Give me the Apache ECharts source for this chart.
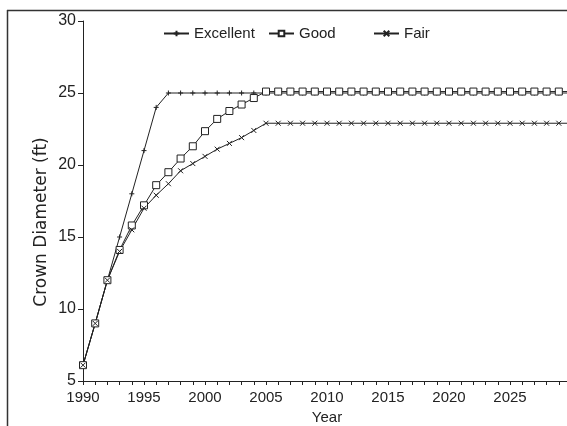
<!DOCTYPE html>
<html>
<head>
<meta charset="utf-8">
<script src="https://cdn.jsdelivr.net/npm/echarts@6/dist/echarts.min.js"></script>
<style>
html,body{margin:0;padding:0;background:#fff;}
#c{width:567px;height:426px;}
</style>
</head>
<body>
<div id="c"></div>
<script>
var years = [1990,1991,1992,1993,1994,1995,1996,1997,1998,1999,2000,2001,2002,2003,2004,2005,2006,2007,2008,2009,2010,2011,2012,2013,2014,2015,2016,2017,2018,2019,2020,2021,2022,2023,2024,2025,2026,2027,2028,2029,2030];
var excellent = [6.1,9,12,15,18,21,24,25,25,25,25,25,25,25,25,25,25,25,25,25,25,25,25,25,25,25,25,25,25,25,25,25,25,25,25,25,25,25,25,25,25];
var good = [6.1,9,12,14.1,15.8,17.2,18.6,19.5,20.45,21.3,22.35,23.2,23.75,24.2,24.65,25.1,25.1,25.1,25.1,25.1,25.1,25.1,25.1,25.1,25.1,25.1,25.1,25.1,25.1,25.1,25.1,25.1,25.1,25.1,25.1,25.1,25.1,25.1,25.1,25.1,25.1];
var fair = [6.1,9,12,14.0,15.5,17.0,17.9,18.7,19.6,20.1,20.6,21.1,21.5,21.9,22.4,22.9,22.9,22.9,22.9,22.9,22.9,22.9,22.9,22.9,22.9,22.9,22.9,22.9,22.9,22.9,22.9,22.9,22.9,22.9,22.9,22.9,22.9,22.9,22.9,22.9,22.9];
var xTicks = [1990,1995,2000,2005,2010,2015,2020,2025];
var yTicks = [5,10,15,20,25,30];
var seriesNames = ['Excellent','Good','Fair'];
var yTitle = 'Crown Diameter (ft)';

function pairs(v){ return years.map(function(y,i){ return [y, v[i]]; }); }

var ink = '#222';
var font = 'Liberation Sans, Arial, sans-serif';
var chart = echarts.init(document.getElementById('c'));
var plusPath = 'path://M5,0L5,10M0,5L10,5';
var crossPath = 'path://M0,0L10,10M10,0L0,10';
var squarePath = 'path://M0,0L10,0L10,10L0,10Z';

function legendAt(name, left){
  return {data:[name], left:left, top:26, padding:0, itemWidth:25, itemHeight:7,
    textStyle:{fontSize:15, color:ink, fontFamily:font}};
}

chart.setOption({
  animation:false,
  backgroundColor:'#fff',
  textStyle:{fontFamily:font},
  grid:{left:83, top:21, right:-4, bottom:45, containLabel:false, outerBoundsMode:'none'},
  legend:[legendAt(seriesNames[0],163), legendAt(seriesNames[1],268), legendAt(seriesNames[2],373)],
  xAxis:{
    type:'value', min:1990, max:2030, interval:5,
    name:'Year', nameLocation:'middle', nameGap:24,
    nameTextStyle:{fontSize:15, color:ink, fontFamily:font},
    axisLine:{lineStyle:{color:ink, width:1}},
    axisTick:{length:4, lineStyle:{color:ink}},
    minorTick:{show:true, splitNumber:5, length:4, lineStyle:{color:ink}},
    splitLine:{show:false}, minorSplitLine:{show:false},
    axisLabel:{fontSize:15, color:ink, margin:9, showMaxLabel:false,
      formatter:function(v){ return xTicks.indexOf(v)>=0 ? String(v) : ''; }}
  },
  yAxis:{
    type:'value', min:5, max:30, interval:5,
    axisLine:{show:true, lineStyle:{color:ink, width:1}},
    axisTick:{show:true, length:5, lineStyle:{color:ink}},
    splitLine:{show:false},
    axisLabel:{fontSize:16, color:ink, margin:7,
      formatter:function(v){ return yTicks.indexOf(v)>=0 ? String(v) : ''; }}
  },
  series:[
    {name:seriesNames[0], type:'line', data:pairs(excellent), symbol:plusPath, symbolSize:5,
      lineStyle:{color:ink, width:1}, itemStyle:{color:ink, borderColor:ink, borderWidth:1}},
    {name:seriesNames[1], type:'line', data:pairs(good), symbol:squarePath, symbolSize:7,
      lineStyle:{color:ink, width:1}, itemStyle:{color:'#fff', borderColor:ink, borderWidth:1}},
    {name:seriesNames[2], type:'line', data:pairs(fair), symbol:crossPath, symbolSize:5,
      lineStyle:{color:ink, width:1}, itemStyle:{color:ink, borderColor:ink, borderWidth:1}}
  ],
  graphic:[
    {type:'line', shape:{x1:7, y1:10.5, x2:567, y2:10.5}, style:{stroke:'#333', lineWidth:1.5}},
    {type:'line', shape:{x1:7.5, y1:10, x2:7.5, y2:426}, style:{stroke:'#333', lineWidth:1.5}},
    {type:'text', x:42, y:222, rotation:Math.PI/2,
      style:{text:yTitle, fill:ink, font:'17px "DejaVu Sans", sans-serif', align:'center', verticalAlign:'middle'}}
  ]
});
</script>
</body>
</html>
